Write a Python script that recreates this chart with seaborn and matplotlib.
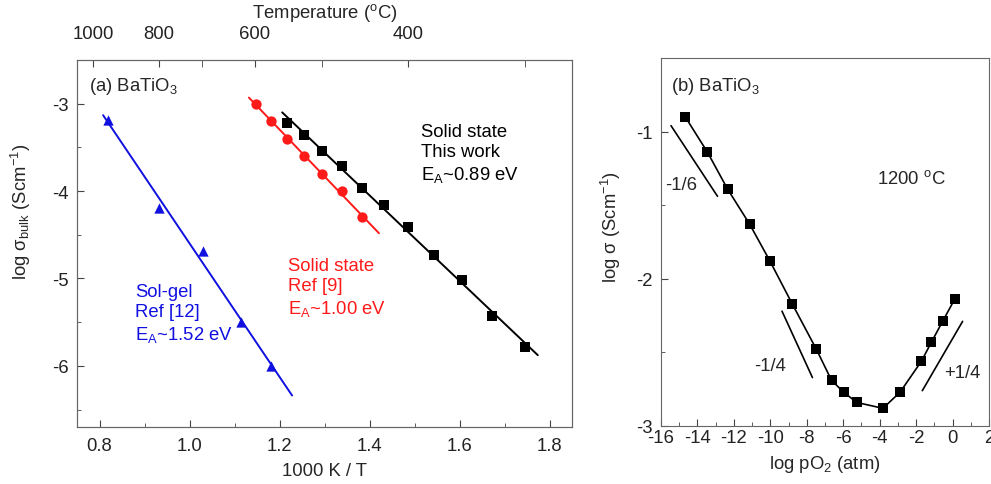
import numpy as np
import pandas as pd
import matplotlib.pyplot as plt
import seaborn as sns
from matplotlib.ticker import MultipleLocator

# ---- panel (a): Arrhenius data ----
solgel_x = [0.819, 0.932, 1.030, 1.114, 1.181]
solgel_y = [-3.19, -4.19, -4.69, -5.50, -6.00]
ref9_x = [1.148, 1.181, 1.217, 1.254, 1.294, 1.339, 1.383]
ref9_y = [-3.00, -3.20, -3.40, -3.60, -3.80, -4.00, -4.30]
work_x = [1.217, 1.254, 1.294, 1.339, 1.383, 1.432, 1.486, 1.543, 1.606, 1.672, 1.746]
work_y = [-3.22, -3.36, -3.54, -3.71, -3.96, -4.16, -4.41, -4.73, -5.02, -5.43, -5.79]
# x range covered by each fitted line
solgel_fit = [0.808, 1.228]
ref9_fit = [1.132, 1.421]
work_fit = [1.206, 1.774]

temp_major = [1000, 800, 600, 400]
temp_minor = [700, 500, 300]

# ---- panel (b): pO2 dependence at 1200 C ----
po2_x = [-14.67, -13.45, -12.35, -11.13, -10.02, -8.80, -7.47, -6.64, -5.98,
         -5.26, -3.82, -2.88, -1.71, -1.16, -0.55, 0.11]
po2_y = [-0.90, -1.14, -1.39, -1.63, -1.88, -2.17, -2.48, -2.69, -2.77,
         -2.84, -2.88, -2.77, -2.56, -2.43, -2.29, -2.14]
# guide lines: label, x start, x end, y start, slope
guide_lbl = ["-1/6", "-1/4", "+1/4"]
guide_x0 = [-15.45, -9.36, -1.66]
guide_x1 = [-12.90, -7.69, 0.55]
guide_y0 = [-0.96, -2.22, -2.76]
guide_slope = [-0.188, -0.27, 0.213]

FS = 13.3

sns.set_style("ticks")
plt.rcParams['font.family'] = ['Liberation Sans', 'DejaVu Sans']
plt.rcParams['mathtext.fontset'] = 'custom'
plt.rcParams['mathtext.rm'] = 'Liberation Sans'
plt.rcParams['mathtext.it'] = 'Liberation Sans:italic'
plt.rcParams['axes.unicode_minus'] = False
plt.rcParams['font.size'] = FS
plt.rcParams['axes.edgecolor'] = '#666666'
plt.rcParams['xtick.color'] = '#444444'
plt.rcParams['ytick.color'] = '#444444'
plt.rcParams['xtick.labelcolor'] = '#222222'
plt.rcParams['ytick.labelcolor'] = '#222222'

fig = plt.figure(figsize=(9.91, 4.85), dpi=100)
ax1 = fig.add_axes([0.0777, 0.1175, 0.4995, 0.7567])
ax2 = fig.add_axes([0.667, 0.1196, 0.331, 0.7588])

BLUE = '#1010e0'
RED = '#ff1a1a'

sets = [
    (solgel_x, solgel_y, solgel_fit, BLUE, '^'),
    (ref9_x, ref9_y, ref9_fit, RED, 'o'),
    (work_x, work_y, work_fit, 'black', 's'),
]
for xs, ys, rng, col, mk in sets:
    k, b = np.polyfit(xs, ys, 1)
    fx = np.array(rng)
    ax1.plot(fx, k * fx + b, color=col, lw=1.4, zorder=2)
    sns.scatterplot(x=xs, y=ys, ax=ax1, color=col, marker=mk, s=55,
                    edgecolor=col, linewidth=0, zorder=3)

ax1.set_xlim(0.75, 1.85)
ax1.set_ylim(-6.7, -2.5)
ax1.xaxis.set_major_locator(MultipleLocator(0.2))
ax1.xaxis.set_minor_locator(MultipleLocator(0.1))
ax1.yaxis.set_major_locator(MultipleLocator(1))
ax1.yaxis.set_minor_locator(MultipleLocator(0.5))
ax1.xaxis.set_major_formatter(plt.FuncFormatter(lambda v, _: f"{v:.1f}"))
ax1.tick_params(which='both', direction='in', labelsize=FS)
ax1.tick_params(which='major', length=5)
ax1.tick_params(which='minor', length=3)
ax1.tick_params(axis='x', pad=7)
ax1.tick_params(axis='y', pad=6)
ax1.set_xlabel("1000 K / T", fontsize=FS, labelpad=6)
ax1.set_ylabel("log σ$_\\mathrm{bulk}$ (Scm$^{-1}$)", fontsize=FS)
ax1.yaxis.set_label_coords(-0.088, 0.59)

top = ax1.twiny()
top.set_xlim(ax1.get_xlim())
top.set_xticks([1000 / (t + 273.15) for t in temp_major])
top.set_xticklabels([str(t) for t in temp_major])
top.set_xticks([1000 / (t + 273.15) for t in temp_minor], minor=True)
top.tick_params(which='both', direction='in', length=5, pad=13, labelsize=FS)
top.set_xlabel("Temperature ($^\\mathrm{o}$C)", fontsize=FS, labelpad=6)
top.spines[:].set_color('#666666')

ax1.text(0.025, 0.93, "(a) BaTiO$_\\mathrm{3}$", transform=ax1.transAxes,
         fontsize=FS, va='center')
ax1.text(0.695, 0.745, "Solid state\nThis work\nE$_\\mathrm{A}$~0.89 eV",
         transform=ax1.transAxes, fontsize=FS, color='black', va='center',
         linespacing=1.25)
ax1.text(0.427, 0.38, "Solid state\nRef [9]\nE$_\\mathrm{A}$~1.00 eV",
         transform=ax1.transAxes, fontsize=FS, color=RED, va='center',
         linespacing=1.25)
ax1.text(0.118, 0.31, "Sol-gel\nRef [12]\nE$_\\mathrm{A}$~1.52 eV",
         transform=ax1.transAxes, fontsize=FS, color=BLUE, va='center',
         linespacing=1.25)

# ---- panel (b) ----
df_b = pd.DataFrame({'logpo2': po2_x, 'logsig': po2_y})
sns.lineplot(data=df_b, x='logpo2', y='logsig', ax=ax2, color='black', lw=1.2,
             sort=False, marker='s', markersize=7.5, markeredgewidth=0)
for lbl, x0, x1, y0, m in zip(guide_lbl, guide_x0, guide_x1, guide_y0, guide_slope):
    gx = np.array([x0, x1])
    ax2.plot(gx, y0 + m * (gx - x0), color='black', lw=1.2)

ax2.set_xlim(-16, 2)
ax2.set_ylim(-3, -0.5)
ax2.xaxis.set_major_locator(MultipleLocator(2))
ax2.xaxis.set_minor_locator(MultipleLocator(1))
ax2.yaxis.set_major_locator(MultipleLocator(1))
ax2.yaxis.set_minor_locator(MultipleLocator(0.5))
ax2.tick_params(which='both', direction='in', labelsize=FS)
ax2.tick_params(which='major', length=5)
ax2.tick_params(which='minor', length=3)
ax2.tick_params(axis='x', pad=2)
ax2.tick_params(axis='y', pad=6)
ax2.set_xlabel("log pO$_\\mathrm{2}$ (atm)", fontsize=FS, labelpad=5)
ax2.set_ylabel("log σ (Scm$^{-1}$)", fontsize=FS)
ax2.yaxis.set_label_coords(-0.116, 0.543)

ax2.text(0.03, 0.925, "(b) BaTiO$_\\mathrm{3}$", transform=ax2.transAxes,
         fontsize=FS, va='center')
ax2.text(0.66, 0.675, "1200 $^\\mathrm{o}$C", transform=ax2.transAxes,
         fontsize=FS, va='center')
ax2.text(0.012, 0.655, "-1/6", transform=ax2.transAxes, fontsize=FS, va='center')
ax2.text(0.285, 0.165, "-1/4", transform=ax2.transAxes, fontsize=FS, va='center')
ax2.text(0.862, 0.145, "+1/4", transform=ax2.transAxes, fontsize=FS, va='center')

for a in (ax1, ax2):
    for s in a.spines.values():
        s.set_visible(True)
        s.set_color('#666666')

fig.savefig("out.png", dpi=100)
